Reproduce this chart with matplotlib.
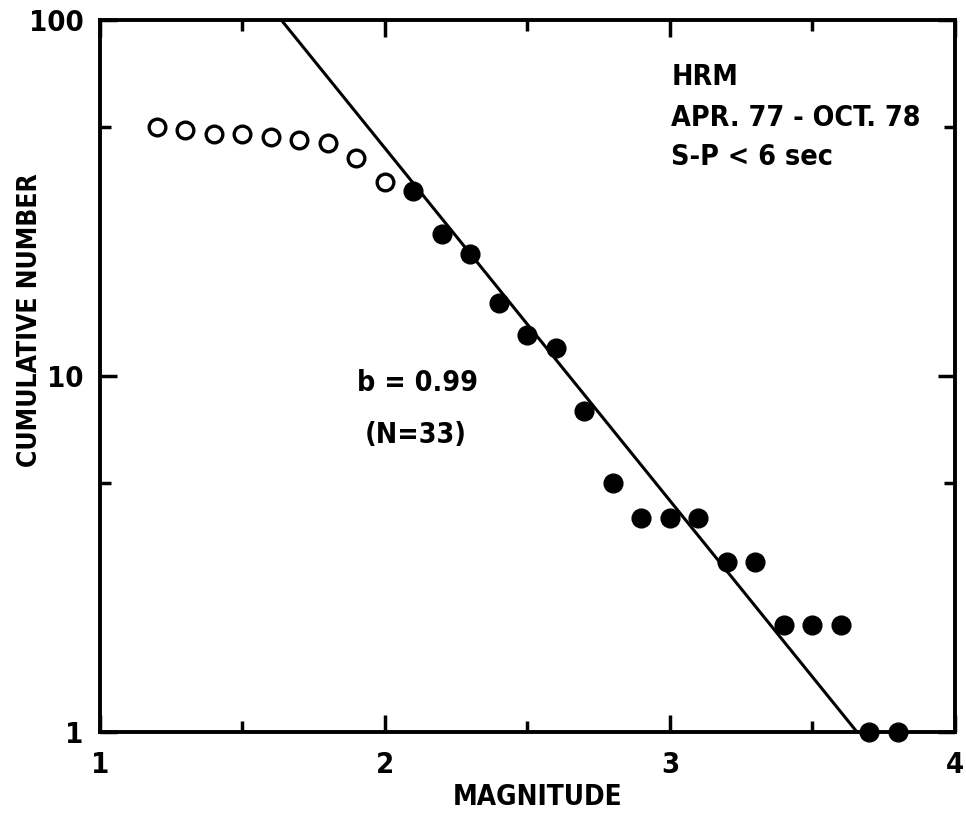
import matplotlib
matplotlib.use("Agg")
import matplotlib.pyplot as plt
import numpy as np
from matplotlib.ticker import FixedLocator, NullFormatter

plt.rcParams['font.family'] = ['DejaVu Sans']
plt.rcParams['font.stretch'] = 'condensed'

# open circles (below completeness threshold)
mag_open = [1.2, 1.3, 1.4, 1.5, 1.6, 1.7, 1.8, 1.9, 2.0]
num_open = [50, 49, 48, 48, 47, 46, 45, 41, 35]

# filled circles (used for fit)
mag_fill = [2.1, 2.2, 2.3, 2.4, 2.5, 2.6, 2.7, 2.8, 2.9, 3.0, 3.1, 3.2, 3.3,
            3.4, 3.5, 3.6, 3.7, 3.8]
num_fill = [33, 25, 22, 16, 13, 12, 8, 5, 4, 4, 4, 3, 3, 2, 2, 2, 1, 1]

# Gutenberg-Richter fit: log N = a - b M
a_val = 3.62
b_val = 0.99

fig = plt.figure(figsize=(9.66, 8.14), dpi=100)
ax = fig.add_axes([0.1035, 0.1007, 0.885, 0.8747])

m = np.linspace(1.0, 4.0, 200)
ax.plot(m, 10 ** (a_val - b_val * m), color='black', lw=2.2, zorder=2)
ax.plot(mag_open, num_open, 'o', mfc='white', mec='black', ms=12, mew=2.4, zorder=3)
ax.plot(mag_fill, num_fill, 'o', color='black', ms=13.5, zorder=3, clip_on=False)

ax.set_yscale('log')
ax.set_xlim(1, 4)
ax.set_ylim(1, 100)

ax.xaxis.set_major_locator(FixedLocator([1, 2, 3, 4]))
ax.xaxis.set_minor_locator(FixedLocator([1.5, 2.5, 3.5]))
ax.yaxis.set_major_locator(FixedLocator([1, 10, 100]))
ax.yaxis.set_minor_locator(FixedLocator([5, 50]))
ax.yaxis.set_minor_formatter(NullFormatter())
ax.set_xticklabels(['1', '2', '3', '4'])
ax.set_yticklabels(['1', '10', '100'])

ax.tick_params(which='both', direction='in', top=True, right=True, width=2.5,
               labelsize=21)
ax.tick_params(axis='y', pad=12)
ax.tick_params(axis='x', pad=14)
ax.tick_params(which='major', length=12)
ax.tick_params(which='minor', length=8)
for lab in ax.get_xticklabels() + ax.get_yticklabels():
    lab.set_fontweight('bold')
for sp in ax.spines.values():
    sp.set_linewidth(2.8)

ax.set_xlabel('MAGNITUDE', fontsize=20, fontweight='bold')
ax.xaxis.set_label_coords(0.512, -0.071)
ax.set_ylabel('CUMULATIVE NUMBER', fontsize=19, fontweight='bold')
ax.yaxis.set_label_coords(-0.067, 0.579)

txt_kw = dict(transform=fig.transFigure, fontsize=20.5, fontweight='bold', va='center')
ax.text(0.695, 0.905, 'HRM', **txt_kw)
ax.text(0.695, 0.855, 'APR. 77 - OCT. 78', **txt_kw)
ax.text(0.695, 0.807, 'S-P < 6 sec', **txt_kw)
ax.text(0.37, 0.529, 'b = 0.99', **txt_kw)
ax.text(0.378, 0.465, '(N=33)', **txt_kw)

fig.savefig('out.png', dpi=100)
